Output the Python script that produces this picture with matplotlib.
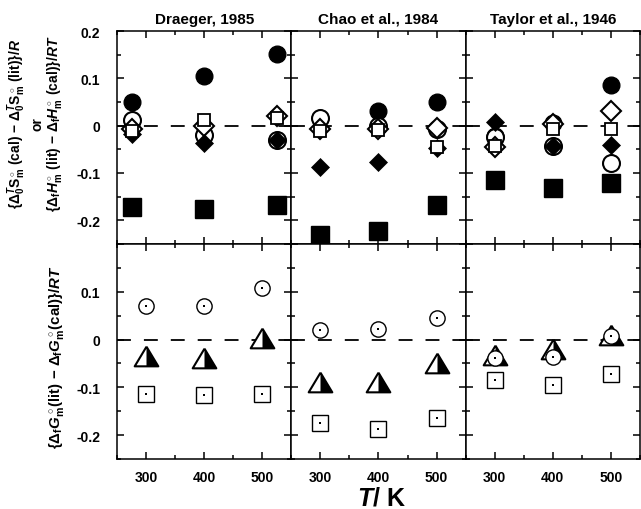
import numpy as np
import matplotlib
matplotlib.use('Agg')
import matplotlib.pyplot as plt
from matplotlib.ticker import MultipleLocator

plt.rcParams['font.family'] = 'Liberation Sans'
plt.rcParams['font.weight'] = 'bold'
plt.rcParams['mathtext.fontset'] = 'custom'
plt.rcParams['mathtext.rm'] = 'Liberation Sans:bold'
plt.rcParams['mathtext.it'] = 'Liberation Sans:italic:bold'
plt.rcParams['mathtext.bf'] = 'Liberation Sans:bold'

sources = ['Draeger, 1985', 'Chao et al., 1984', 'Taylor et al., 1946']
T_upper = [[275, 400, 525], [300, 400, 500], [300, 400, 500]]
T_lower = [300, 400, 500]

# upper row: entropy / enthalpy differences
filled_square = [[-0.172, -0.175, -0.168], [-0.232, -0.223, -0.168], [-0.115, -0.132, -0.121]]
filled_circle = [[0.051, 0.104, 0.151], [np.nan, 0.030, 0.051], [-0.022, 0.006, 0.085]]
open_circle = [[0.013, -0.019, -0.031], [0.016, 0.0, -0.008], [-0.024, -0.044, -0.079]]
open_diamond = [[-0.007, 0.0, 0.020], [-0.006, -0.008, -0.004], [-0.045, 0.003, 0.030]]
filled_diamond = [[-0.018, -0.036, -0.031], [-0.088, -0.077, -0.047], [0.007, -0.044, -0.040]]
open_square = [[-0.011, 0.011, 0.017], [-0.011, -0.009, -0.045], [-0.044, -0.006, -0.007]]

# lower row: Gibbs energy differences
circle_dot = [[0.070, 0.070, 0.108], [0.021, 0.023, 0.045], [-0.039, -0.036, 0.007]]
half_triangle = [[-0.035, -0.039, 0.003], [-0.089, -0.089, -0.049], [-0.033, -0.019, 0.009]]
square_dot = [[-0.113, -0.115, -0.113], [-0.174, -0.187, -0.164], [-0.085, -0.096, -0.072]]

ytick_vals = [-0.2, -0.1, 0, 0.1, 0.2]
ytick_upper = ['-0.2', '-0.1', '0', '0.1', '0.2']
ytick_lower = ['-0.2', '-0.1', '0', '0.1', '']

tri = [(0, 1), (-1.2, -1), (1.2, -1), (0, 1)]
tri_right = [(0, 1), (0, -1), (1.2, -1), (0, 1)]

fig = plt.figure(figsize=(6.41, 5.10), dpi=100)
left0 = 117 / 641
w = 174.3 / 641


def style(ax, first_col, bottom_row, labels):
    ax.set_xlim(250, 550)
    ax.set_ylim(-0.25, 0.2)
    ax.xaxis.set_major_locator(MultipleLocator(100))
    ax.xaxis.set_minor_locator(MultipleLocator(50))
    ax.set_yticks(ytick_vals)
    ax.set_yticklabels(labels)
    ax.yaxis.set_minor_locator(MultipleLocator(0.05))
    ax.tick_params(which='both', direction='in', top=True, right=True, width=1.1,
                   labelsize=10, labelleft=first_col, labelbottom=bottom_row)
    ax.tick_params(axis='y', pad=12)
    ax.tick_params(axis='x', pad=8)
    ax.tick_params(which='major', length=5)
    ax.tick_params(which='minor', length=3)
    for s in ax.spines.values():
        s.set_linewidth(1.1)
    ax.axhline(0, color='k', lw=1.3, ls=(0, (7.7, 7.2)), zorder=1)


for i in range(3):
    ax = fig.add_axes([left0 + i * w, 265 / 510, w, 213 / 510])
    style(ax, i == 0, False, ytick_upper)
    ax.set_title(sources[i], fontsize=11, fontweight='bold', pad=6)
    T = T_upper[i]
    ax.plot(T, filled_square[i], ls='none', marker='s', ms=12.6, mfc='k', mec='k')
    ax.plot(T, filled_circle[i], ls='none', marker='o', ms=12, mfc='k', mec='k')
    ax.plot(T, open_circle[i], ls='none', marker='o', ms=12.2, mfc='w', mec='k', mew=1.5)
    ax.plot(T, open_diamond[i], ls='none', marker='D', ms=10.2, mfc='w', mec='k', mew=1.5)
    ax.plot(T, filled_diamond[i], ls='none', marker='D', ms=8.8, mfc='k', mec='k', mew=0.5)
    ax.plot(T, open_square[i], ls='none', marker='s', ms=8.8, mfc='w', mec='k', mew=1.3)

    ax = fig.add_axes([left0 + i * w, 50 / 510, w, 215 / 510])
    style(ax, i == 0, True, ytick_lower)
    ax.plot(T_lower, square_dot[i], ls='none', marker='s', ms=11.2, mfc='w', mec='k', mew=1.0)
    ax.plot(T_lower, square_dot[i], ls='none', marker='s', ms=2, mfc='k', mec='k', mew=0)
    ax.plot(T_lower, half_triangle[i], ls='none', marker=tri, ms=17, mfc='w', mec='k', mew=1.5)
    ax.plot(T_lower, half_triangle[i], ls='none', marker=tri_right, ms=17, mfc='k', mec='none', mew=0)
    ax.plot(T_lower, circle_dot[i], ls='none', marker='o', ms=11, mfc='w', mec='k', mew=1.0)
    ax.plot(T_lower, circle_dot[i], ls='none', marker='s', ms=2, mfc='k', mec='k', mew=0)

# axis labels
fig.text(17 / 641, 1 - 124 / 510,
         r'$\{\Delta_0^T\mathrm{S}^\circ_\mathrm{m}$ (cal) $-$ $\Delta_0^T\mathrm{S}^\circ_\mathrm{m}$ (lit)$\}/R$',
         rotation=90, ha='center', va='center', fontsize=10)
fig.text(38 / 641, 1 - 124 / 510, 'or', rotation=90, ha='center', va='center', fontsize=10)
fig.text(55 / 641, 1 - 124 / 510,
         r'$\{\Delta_\mathrm{f}H^\circ_\mathrm{m}$ (lit) $-$ $\Delta_\mathrm{f}H^\circ_\mathrm{m}$ (cal)$\}/RT$',
         rotation=90, ha='center', va='center', fontsize=10)
fig.text(56 / 641, 1 - 357 / 510,
         r'$\{\Delta_\mathrm{f}G^\circ_\mathrm{m}$(lit) $-$ $\Delta_\mathrm{f}G^\circ_\mathrm{m}$(cal)$\}/RT$',
         rotation=90, ha='center', va='center', fontsize=10.8)
fig.text(381 / 641, 1 - 506 / 510, r'$T$/ K', ha='center', va='baseline', fontsize=18)

fig.savefig('out.png', dpi=100)
